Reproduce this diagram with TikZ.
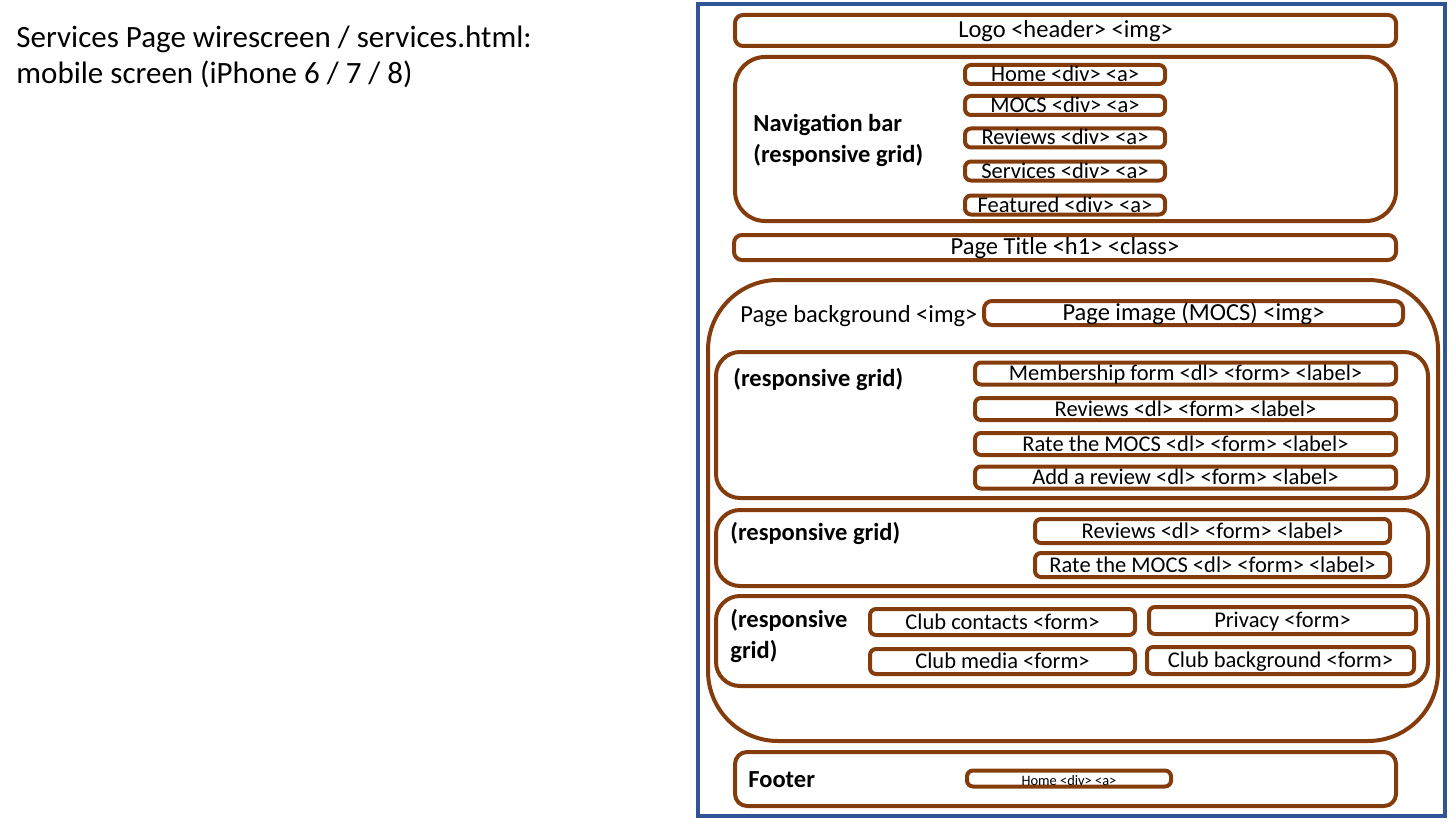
\documentclass[tikz,border=0pt]{standalone}
\usepackage{fontspec}
\setmainfont{Carlito}
\usetikzlibrary{positioning}
\definecolor{wirebrown}{RGB}{132,60,12}
\definecolor{wireblue}{RGB}{47,85,151}
\tikzset{
  screen/.style={draw=wireblue, line width=2pt},
  region/.style={draw=wirebrown, line width=2pt},
  item/.style={draw=wirebrown, line width=2pt, rounded corners=3pt, inner sep=0pt,
    text height=0.75em, text depth=0.05em, font=\fontsize{11.25}{12}\selectfont},
  bar/.style={item, rounded corners=4pt, font=\fontsize{12.25}{13}\selectfont},
  grplabel/.style={anchor=west, align=left, inner sep=0pt,
    font=\bfseries\fontsize{12.25}{15.5}\selectfont},
}
\begin{document}
\begin{tikzpicture}[x=0.5pt, y=-0.5pt]
  \useasboundingbox (0,0) rectangle (1456,824);
  % heading
  \node[anchor=base west, inner sep=0pt, font=\fontsize{15.5}{18}\selectfont] (title1) at (16,48)
    {Services Page wirescreen / services.html:};
  \node[anchor=base west, inner sep=0pt, font=\fontsize{15.5}{18}\selectfont] (title2) at (16,84)
    {mobile screen (iPhone 6 / 7 / 8)};
  % phone screen
  \draw[screen] (698,4) rectangle (1445,816);
  % header
  \node[bar, minimum width=330.5pt, minimum height=15.5pt] (logo) at (1065.5,30.5) {Logo <header> <img>};
  % navigation bar
  \draw[region, rounded corners=15pt] (735,57) rectangle (1396,221);
  \node[grplabel] (navlbl) at (753,140) {Navigation bar\\(responsive grid)};
  \node[item, minimum width=100pt, minimum height=9.5pt] (navhome) at (1065,74.5) {Home <div> <a>};
  \node[item, minimum width=100pt, minimum height=9.5pt] (navmocs) at (1065,105.5) {MOCS <div> <a>};
  \node[item, minimum width=100pt, minimum height=9.5pt] (navrev) at (1065,138) {Reviews <div> <a>};
  \node[item, minimum width=100pt, minimum height=9.5pt] (navserv) at (1065,171) {Services <div> <a>};
  \node[item, minimum width=100pt, minimum height=9.5pt] (navfeat) at (1065,205) {Featured <div> <a>};
  % page title
  \node[bar, minimum width=331pt, minimum height=12.5pt] (ptitle) at (1065,247.5) {Page Title <h1> <class>};
  % page background
  \draw[region, rounded corners=35pt] (708,280) rectangle (1438,741);
  \node[anchor=west, inner sep=0pt, font=\fontsize{12.25}{13}\selectfont] (bglbl) at (740,316) {Page background <img>};
  \node[bar, minimum width=209.5pt, minimum height=12pt] (pimage) at (1193.5,313) {Page image (MOCS) <img>};
  % first grid
  \draw[region, rounded corners=12pt] (716,352) rectangle (1428,498);
  \node[grplabel] (grida) at (733,379) {(responsive grid)};
  \node[item, minimum width=210.5pt, minimum height=11pt] (member) at (1185.5,373.5) {Membership form <dl> <form> <label>};
  \node[item, minimum width=210.5pt, minimum height=11pt] (reviewsa) at (1185.5,409) {Reviews <dl> <form> <label>};
  \node[item, minimum width=210.5pt, minimum height=11pt] (ratea) at (1185.5,444) {Rate the MOCS <dl> <form> <label>};
  \node[item, minimum width=210.5pt, minimum height=11pt] (addrev) at (1185.5,477.5) {Add a review <dl> <form> <label>};
  % second grid
  \draw[region, rounded corners=12pt] (716,510) rectangle (1428,586);
  \node[grplabel] (gridb) at (730,533) {(responsive grid)};
  \node[item, minimum width=177.5pt, minimum height=12pt] (reviewsb) at (1212.5,531) {Reviews <dl> <form> <label>};
  \node[item, minimum width=177.5pt, minimum height=12pt] (rateb) at (1212.5,565) {Rate the MOCS <dl> <form> <label>};
  % third grid
  \draw[region, rounded corners=12pt] (716,596) rectangle (1428,686);
  \node[grplabel] (gridc) at (730,635.5) {(responsive\\grid)};
  \node[item, minimum width=132.5pt, minimum height=13pt] (contacts) at (1002.5,622) {Club contacts <form>};
  \node[item, minimum width=133.5pt, minimum height=13.5pt] (privacy) at (1282.5,620.5) {Privacy <form>};
  \node[item, minimum width=132.5pt, minimum height=12.5pt] (media) at (1002.5,661.5) {Club media <form>};
  \node[item, minimum width=133.5pt, minimum height=13.5pt] (clubbg) at (1280.5,660.5) {Club background <form>};
  % footer
  \draw[region, rounded corners=6pt] (735,752) rectangle (1396,806);
  \node[grplabel] (footlbl) at (748,780) {Footer};
  \node[item, minimum width=102pt, minimum height=7.5pt, font=\fontsize{7.2}{8}\selectfont] (foothome) at (1069,778.5) {Home <div> <a>};
\end{tikzpicture}
\end{document}
